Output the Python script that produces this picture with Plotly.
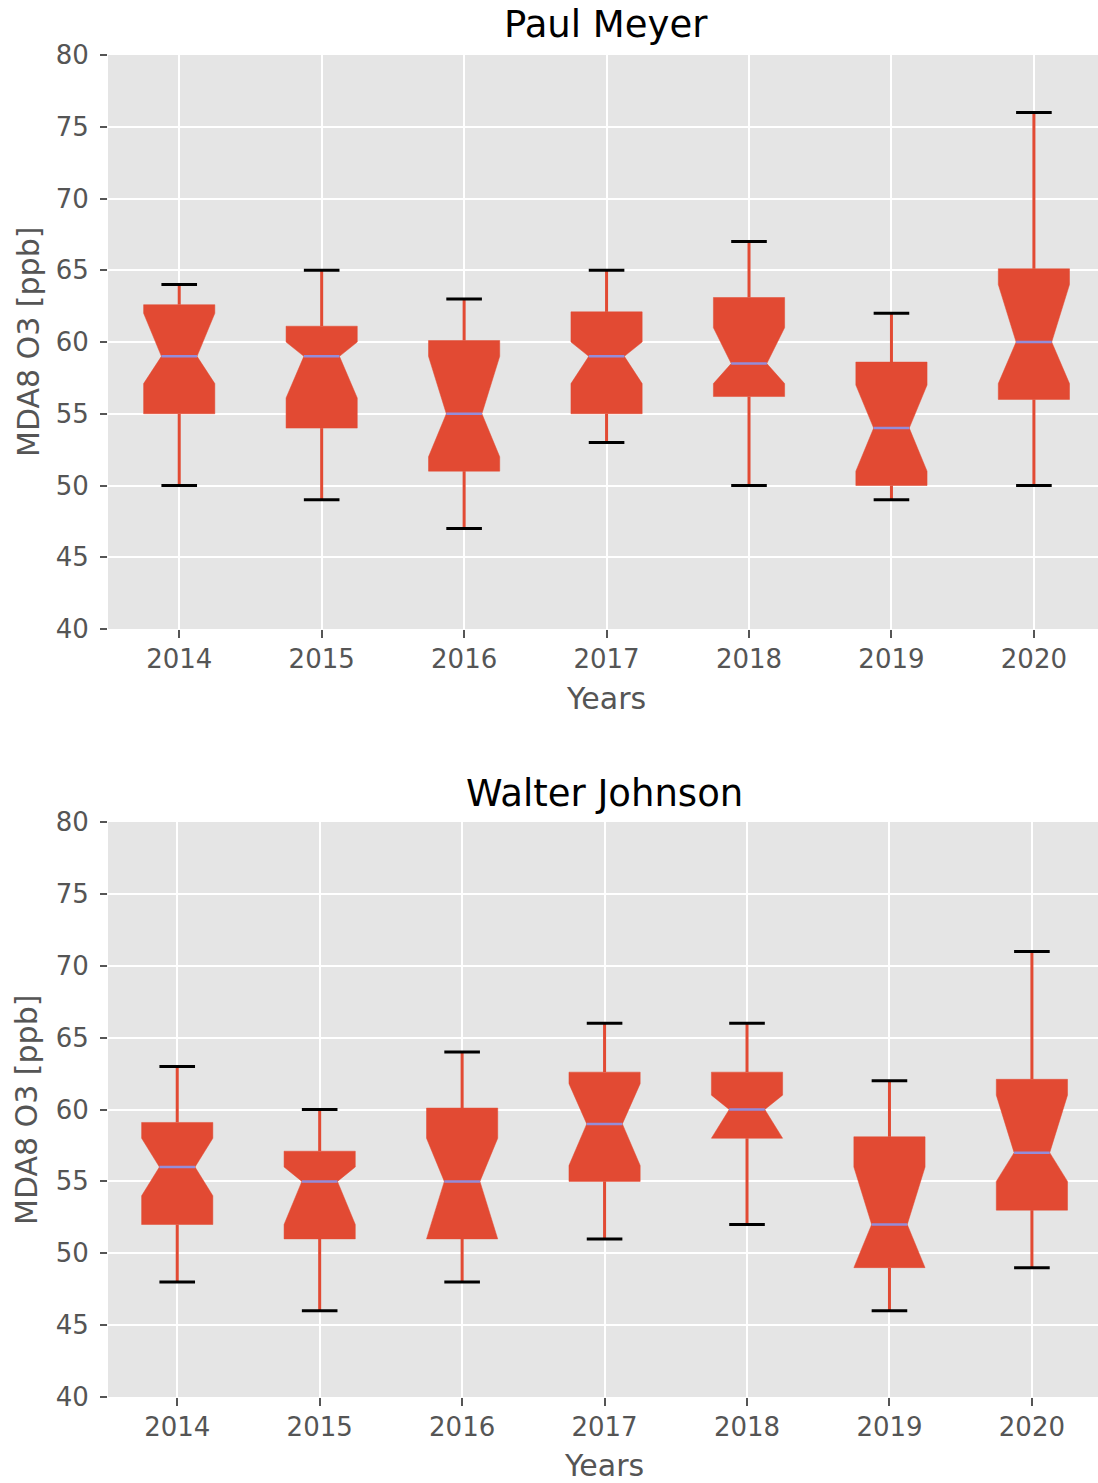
import plotly.graph_objects as go

# Category labels
years = ["2014", "2015", "2016", "2017", "2018", "2019", "2020"]

# Paul Meyer site: MDA8 O3 box statistics [ppb]
pm_whislo = [50, 49, 47, 53, 50, 49, 50]
pm_q1 = [55, 54, 51, 55, 56.2, 50, 56]
pm_cilo = [57.1, 56.1, 52, 57.1, 57.1, 51, 57.1]
pm_med = [59, 59, 55, 59, 58.5, 54, 60]
pm_cihi = [62, 60, 59, 60, 61, 57, 64]
pm_q3 = [62.6, 61.1, 60.1, 62.1, 63.1, 58.6, 65.1]
pm_whishi = [64, 65, 63, 65, 67, 62, 76]

# Walter Johnson site: MDA8 O3 box statistics [ppb]
wj_whislo = [48, 46, 48, 51, 52, 46, 49]
wj_q1 = [52, 51, 51, 55, 58, 49, 53]
wj_cilo = [54, 52, 51, 56.1, 58, 49, 55]
wj_med = [56, 55, 55, 59, 60, 52, 57]
wj_cihi = [58, 56, 58, 61.8, 61, 56, 61]
wj_q3 = [59.1, 57.1, 60.1, 62.6, 62.6, 58.1, 62.1]
wj_whishi = [63, 60, 64, 66, 66, 62, 71]

BOX_RED = "#E24A33"
MEDIAN_C = "#948DDA"
TICK_C = "#555555"
FONT = "DejaVu Sans"

HALF_W = 0.25      # half box width (x units)
NOTCH_W = 0.125    # half width at the notch waist

fig = go.Figure()


def add_panel(xa, ya, whislo, q1, cilo, med, cihi, q3, whishi):
    positions = list(range(1, len(years) + 1))
    wx, wy, cx, cy, mx, my = [], [], [], [], [], []
    for p, lo, a, cl, m, ch, b, hi in zip(positions, whislo, q1, cilo, med, cihi, q3, whishi):
        xs = [p - HALF_W, p + HALF_W, p + HALF_W, p + NOTCH_W, p + HALF_W, p + HALF_W,
              p - HALF_W, p - HALF_W, p - NOTCH_W, p - HALF_W, p - HALF_W]
        ys = [a, a, cl, m, ch, b, b, ch, m, cl, a]
        fig.add_trace(go.Scatter(x=xs, y=ys, xaxis=xa, yaxis=ya, mode="lines",
                                 fill="toself", fillcolor=BOX_RED,
                                 line=dict(color=BOX_RED, width=0.5),
                                 showlegend=False, hoverinfo="skip"))
        wx += [p, p, None, p, p, None]
        wy += [lo, a, None, b, hi, None]
        cx += [p - NOTCH_W, p + NOTCH_W, None, p - NOTCH_W, p + NOTCH_W, None]
        cy += [lo, lo, None, hi, hi, None]
        mx += [p - NOTCH_W, p + NOTCH_W, None]
        my += [m, m, None]
    fig.add_trace(go.Scatter(x=wx, y=wy, xaxis=xa, yaxis=ya, mode="lines",
                             line=dict(color=BOX_RED, width=3),
                             showlegend=False, hoverinfo="skip"))
    fig.add_trace(go.Scatter(x=cx, y=cy, xaxis=xa, yaxis=ya, mode="lines",
                             line=dict(color="black", width=3),
                             showlegend=False, hoverinfo="skip"))
    fig.add_trace(go.Scatter(x=mx, y=my, xaxis=xa, yaxis=ya, mode="lines",
                             line=dict(color=MEDIAN_C, width=2.5),
                             showlegend=False, hoverinfo="skip"))


add_panel("x", "y", pm_whislo, pm_q1, pm_cilo, pm_med, pm_cihi, pm_q3, pm_whishi)
add_panel("x2", "y2", wj_whislo, wj_q1, wj_cilo, wj_med, wj_cihi, wj_q3, wj_whishi)

W, H = 1098, 1483
L = 108

xaxis_style = dict(
    tickmode="array", tickvals=list(range(1, 8)), ticktext=years,
    showgrid=True, gridcolor="white", gridwidth=2, zeroline=False,
    ticks="outside", ticklen=8, tickwidth=2, tickcolor=TICK_C,
    tickfont=dict(family=FONT, size=26, color=TICK_C), showline=False,
    ticklabelstandoff=-1, automargin=False,
)
yaxis_style = dict(
    range=[40, 80], tickmode="array", tickvals=list(range(40, 81, 5)),
    showgrid=True, gridcolor="white", gridwidth=2, zeroline=False,
    ticks="outside", ticklen=7, tickwidth=2, tickcolor=TICK_C,
    tickfont=dict(family=FONT, size=26, color=TICK_C), showline=False,
    ticklabelstandoff=6, automargin=False,
)


def py(px):
    return 1 - px / H


def pxx(px):
    return (px - L) / (W - L)


fig.update_layout(
    width=W, height=H,
    margin=dict(l=L, r=0, t=0, b=0, autoexpand=False),
    paper_bgcolor="white", plot_bgcolor="#E5E5E5",
    xaxis=dict(domain=[0, 1], anchor="y", range=[0.5, 7.45], **xaxis_style),
    yaxis=dict(domain=[py(629), py(55)], anchor="x", **yaxis_style),
    xaxis2=dict(domain=[0, 1], anchor="y2", range=[0.514, 7.464], **xaxis_style),
    yaxis2=dict(domain=[py(1397), py(822)], anchor="x2", **yaxis_style),
)

annots = [
    dict(text="Paul Meyer", x=pxx(606), y=py(25), size=37, color="black", angle=0),
    dict(text="Walter Johnson", x=pxx(604), y=py(793), size=37, color="black", angle=0),
    dict(text="Years", x=pxx(606), y=py(698), size=30, color=TICK_C, angle=0),
    dict(text="Years", x=pxx(604), y=py(1465), size=30, color=TICK_C, angle=0),
    dict(text="MDA8 O3 [ppb]", x=pxx(28), y=py(342), size=30, color=TICK_C, angle=-90),
    dict(text="MDA8 O3 [ppb]", x=pxx(26), y=py(1110), size=30, color=TICK_C, angle=-90),
]
for a in annots:
    fig.add_annotation(text=a["text"], x=a["x"], y=a["y"], xref="paper", yref="paper",
                       xanchor="center", yanchor="middle", showarrow=False,
                       textangle=a["angle"],
                       font=dict(family=FONT, size=a["size"], color=a["color"]))

fig.write_html("out.html")
